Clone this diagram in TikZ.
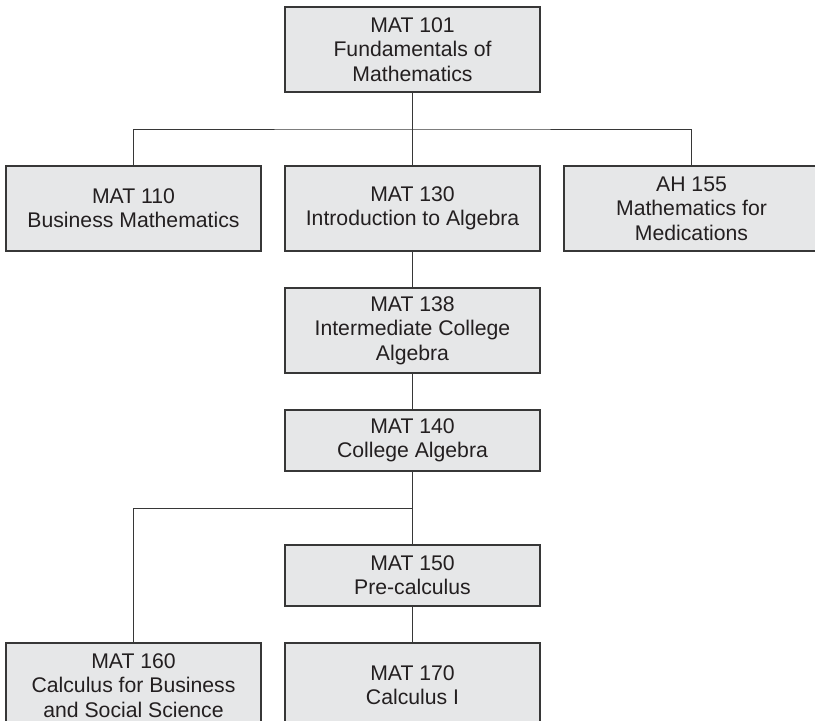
\documentclass[tikz,border=0pt]{standalone}
\usepackage{fontspec}
\setmainfont{Liberation Sans}
\usetikzlibrary{positioning}

\definecolor{boxfill}{RGB}{230,231,232}
\definecolor{boxline}{RGB}{55,55,55}
\definecolor{boxtext}{RGB}{35,31,32}

\begin{document}
\begin{tikzpicture}[
    node distance=1.11cm and 0.72cm,
    every node/.style={font=\fontsize{18.1pt}{20.8pt}\selectfont, align=center, text=boxtext},
    course/.style={
        draw=boxline, line width=1.3pt, fill=boxfill, outer sep=0pt,
        minimum width=7.65cm, minimum height=2.55cm, inner sep=2pt
    },
    shortcourse/.style={course, minimum height=1.83cm},
    link/.style={draw=boxline, line width=0.8pt}
]

\useasboundingbox (0,0) rectangle (24.45,-21.63);
\clip (0,0) rectangle (24.45,-21.63);

% --- Top: entry course ---
\node[course] (mat101) at (12.375,-1.485) {MAT 101\\Fundamentals of\\Mathematics};

% --- Second row: three courses side by side ---
\node[course, below=2.22cm of mat101] (mat130) {MAT 130\\Introduction to Algebra};
\node[course, left=of mat130] (mat110) {MAT 110\\Business Mathematics};
\node[course, right=of mat130] (ah155) {AH 155\\Mathematics for\\Medications};

% --- Middle column: algebra sequence ---
\node[course, below=of mat130] (mat138) {MAT 138\\Intermediate College\\Algebra};
\node[shortcourse, below=of mat138] (mat140) {MAT 140\\College Algebra};
\node[shortcourse, below=2.22cm of mat140] (mat150) {MAT 150\\Pre-calculus};

% --- Bottom row: calculus ---
\node[course, below=of mat150] (mat170) {MAT 170\\Calculus I};
\node[course, left=of mat170] (mat160) {MAT 160\\Calculus for Business\\and Social Science};

% --- Branch points halfway between the rows ---
\path (mat101.south) -- coordinate[midway] (split1) (mat130.north);
\path (mat140.south) -- coordinate[midway] (split2) (mat150.north);

% --- Connections ---
\draw[link] (mat101) -- (mat130);
\draw[link] (mat110.north) |- (split1) -| (ah155.north);
\draw[link] (mat130) -- (mat138);
\draw[link] (mat138) -- (mat140);
\draw[link] (mat140) -- (mat150);
\draw[link] (mat160.north) |- (split2);
\draw[link] (mat150) -- (mat170);

\end{tikzpicture}
\end{document}
